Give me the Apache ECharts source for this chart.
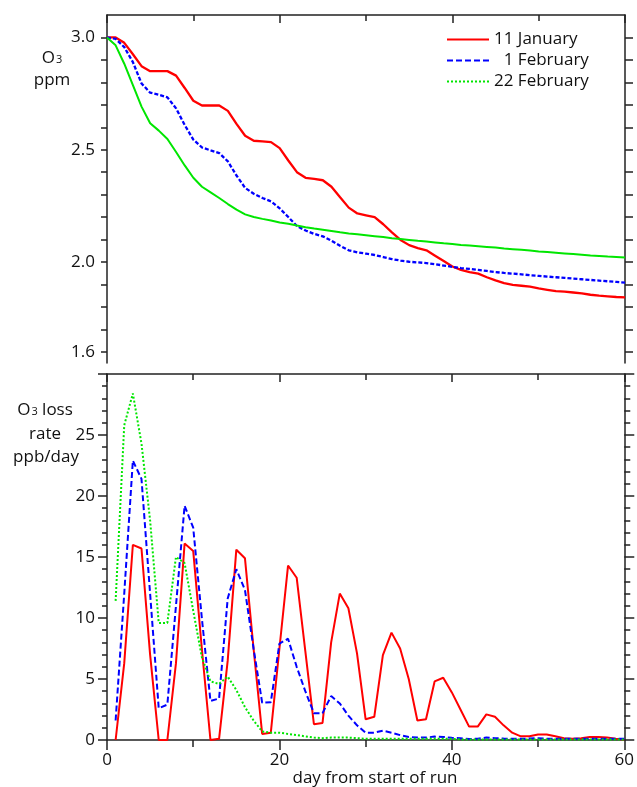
<!DOCTYPE html>
<html>
<head>
<meta charset="utf-8">
<script src="https://cdn.jsdelivr.net/npm/echarts@6/dist/echarts.min.js"></script>
<style>
html, body { margin: 0; padding: 0; background: #fff; }
#chart { width: 637px; height: 787px; }
</style>
</head>
<body>
<div id="chart"></div>
<script>
// series names (legend)
const names = ['11 January', '\u20071 February', '22 February'];

// O3 mixing ratio (ppm), days 0..60
const ppmJan = [3.000, 3.000, 2.976, 2.925, 2.872, 2.850, 2.850, 2.850, 2.830, 2.775,
  2.718, 2.697, 2.697, 2.697, 2.673, 2.615, 2.562, 2.540, 2.537, 2.534,
  2.507, 2.452, 2.400, 2.375, 2.370, 2.364, 2.335, 2.288, 2.242, 2.216,
  2.208, 2.200, 2.168, 2.132, 2.098, 2.075, 2.062, 2.052, 2.028, 2.004,
  1.980, 1.965, 1.955, 1.948, 1.932, 1.918, 1.906, 1.898, 1.894, 1.890,
  1.882, 1.876, 1.870, 1.868, 1.864, 1.860, 1.854, 1.850, 1.847, 1.844, 1.842];
const ppmFeb1 = [3.000, 2.994, 2.957, 2.890, 2.795, 2.754, 2.745, 2.733, 2.684, 2.610,
  2.545, 2.510, 2.497, 2.485, 2.448, 2.385, 2.330, 2.304, 2.285, 2.270,
  2.239, 2.200, 2.160, 2.140, 2.125, 2.114, 2.095, 2.072, 2.052, 2.043,
  2.037, 2.031, 2.022, 2.013, 2.006, 2.001, 1.998, 1.995, 1.990, 1.984,
  1.978, 1.973, 1.969, 1.965, 1.960, 1.955, 1.951, 1.948, 1.945, 1.941,
  1.938, 1.935, 1.932, 1.929, 1.926, 1.923, 1.920, 1.917, 1.914, 1.911, 1.908];
const ppmFeb22 = [3.000, 2.965, 2.883, 2.788, 2.692, 2.618, 2.585, 2.548, 2.490, 2.430,
  2.375, 2.335, 2.310, 2.285, 2.258, 2.233, 2.212, 2.200, 2.192, 2.185,
  2.176, 2.170, 2.162, 2.155, 2.149, 2.144, 2.138, 2.132, 2.127, 2.123,
  2.119, 2.115, 2.111, 2.106, 2.102, 2.098, 2.094, 2.091, 2.087, 2.083,
  2.080, 2.076, 2.073, 2.070, 2.067, 2.064, 2.060, 2.057, 2.054, 2.051,
  2.047, 2.044, 2.041, 2.038, 2.035, 2.032, 2.029, 2.027, 2.024, 2.022, 2.020];

// O3 loss rate (ppb/day), days 1..60
const lossJan = [0.0, 6.3, 16.0, 15.7, 7.0, 0.0, 0.0, 6.3, 16.1, 15.5,
  7.5, 0.0, 0.1, 6.5, 15.6, 14.9, 7.5, 0.5, 0.6, 7.5,
  14.3, 13.3, 7.3, 1.3, 1.4, 8.0, 12.0, 10.8, 7.1, 1.7,
  1.9, 6.95, 8.8, 7.5, 5.0, 1.6, 1.7, 4.8, 5.1, 3.9,
  2.5, 1.1, 1.1, 2.1, 1.9, 1.2, 0.6, 0.3, 0.3, 0.45,
  0.45, 0.3, 0.15, 0.1, 0.15, 0.25, 0.25, 0.2, 0.1, 0.05];
const lossFeb1 = [1.6, 12.0, 22.9, 21.4, 12.0, 2.6, 2.9, 11.0, 19.2, 17.4,
  10.0, 3.2, 3.4, 11.6, 14.0, 12.3, 7.5, 3.05, 3.1, 7.9,
  8.3, 6.0, 4.0, 2.2, 2.2, 3.6, 3.0, 2.0, 1.2, 0.6,
  0.6, 0.76, 0.6, 0.4, 0.25, 0.2, 0.2, 0.28, 0.25, 0.18,
  0.15, 0.08, 0.1, 0.2, 0.15, 0.12, 0.1, 0.1, 0.12, 0.15,
  0.12, 0.1, 0.1, 0.1, 0.1, 0.1, 0.1, 0.1, 0.1, 0.1];
const lossFeb22 = [11.4, 25.8, 28.4, 24.3, 18.0, 9.6, 9.6, 15.0, 14.5, 10.6,
  6.8, 4.8, 4.6, 5.2, 4.1, 2.7, 1.6, 0.7, 0.6, 0.6,
  0.5, 0.4, 0.3, 0.2, 0.15, 0.2, 0.2, 0.2, 0.15, 0.1,
  0.1, 0.1, 0.1, 0.1, 0.1, 0.1, 0.1, 0.1, 0.1, 0.1,
  0.05, 0.05, 0.05, 0.05, 0.05, 0.05, 0.05, 0.05, 0.05, 0.05,
  0.05, 0.05, 0.05, 0.05, 0.05, 0.05, 0.05, 0.05, 0.05, 0.05];

// axis ticks / labels
const ppmTicks = [1.6, 1.7, 1.8, 1.9, 2.0, 2.1, 2.2, 2.3, 2.4, 2.5, 2.6, 2.7, 2.8, 2.9, 3.0];
const ppmLabels = [1.6, 2.0, 2.5, 3.0];

const font = '"Open Sans", "Noto Sans", sans-serif';
const ink = '#222';
const colors = ['#ff0000', '#0000ff', '#00e600'];

const chart = echarts.init(document.getElementById('chart'), null, { renderer: 'canvas' });

function toPairs(arr, start) {
  return arr.map((v, i) => [i + start, v]);
}

const line = { show: true, onZero: false, lineStyle: { color: ink, width: 1.5 } };

function xAxisDef(grid, pos, labels, tickLen, minorLen) {
  return {
    type: 'value', gridIndex: grid, position: pos, min: 0, max: 60, interval: 20,
    axisLine: line,
    axisTick: { show: true, inside: pos === 'top', length: tickLen, lineStyle: { color: ink, width: 1.5 } },
    minorTick: { show: true, splitNumber: 2, length: minorLen, lineStyle: { color: ink, width: 1.5 } },
    axisLabel: { show: labels, margin: 12, fontSize: 17, color: '#111', fontFamily: font },
    splitLine: { show: false }, minorSplitLine: { show: false }
  };
}

const option = {
  animation: false,
  backgroundColor: '#fff',
  grid: [
    { left: 107, right: 12, top: 15, height: 348 },
    { left: 107, right: 12, top: 374, bottom: 47 }
  ],
  xAxis: [
    xAxisDef(0, 'top', false, 8, 6),
    xAxisDef(1, 'top', false, 8, 6),
    xAxisDef(1, 'bottom', true, 10, 7)
  ],
  yAxis: [
    {
      type: 'value', gridIndex: 0, position: 'left', min: 1.55, max: 3.1,
      axisLine: line,
      axisTick: { show: true, length: 6, customValues: ppmTicks, lineStyle: { color: ink, width: 1.5 } },
      axisLabel: { customValues: ppmLabels, formatter: v => v.toFixed(1), margin: 12, fontSize: 17, color: '#111', fontFamily: font },
      splitLine: { show: false }
    },
    {
      type: 'value', gridIndex: 0, position: 'right', min: 1.55, max: 3.1,
      axisLine: line,
      axisTick: { show: true, length: 8, customValues: ppmTicks, lineStyle: { color: ink, width: 1.5 } },
      axisLabel: { show: false },
      splitLine: { show: false }
    },
    {
      type: 'value', gridIndex: 1, position: 'left', min: 0, max: 30, interval: 5,
      axisLine: line,
      axisTick: { show: true, length: 9, lineStyle: { color: ink, width: 1.5 } },
      minorTick: { show: true, splitNumber: 5, length: 5, lineStyle: { color: ink, width: 1.5 } },
      axisLabel: { showMaxLabel: false, margin: 12, fontSize: 17, color: '#111', fontFamily: font },
      splitLine: { show: false }, minorSplitLine: { show: false }
    },
    {
      type: 'value', gridIndex: 1, position: 'right', min: 0, max: 30, interval: 5,
      axisLine: line,
      axisTick: { show: true, length: 10, lineStyle: { color: ink, width: 1.5 } },
      minorTick: { show: true, splitNumber: 5, length: 6, lineStyle: { color: ink, width: 1.5 } },
      axisLabel: { show: false },
      splitLine: { show: false }, minorSplitLine: { show: false }
    }
  ],
  legend: {
    orient: 'vertical', left: 441, top: 26,
    itemWidth: 42, itemHeight: 20, itemGap: 4,
    itemStyle: { opacity: 0, borderWidth: 0 },
    textStyle: { fontSize: 17, color: '#111', fontFamily: font },
    data: names
  },
  series: [
    // loss-rate panel (listed first so the legend takes its line styles)
    { name: names[0], type: 'line', xAxisIndex: 2, yAxisIndex: 2, showSymbol: false, symbol: 'none',
      lineStyle: { color: colors[0], width: 2 }, itemStyle: { color: colors[0] }, data: toPairs(lossJan, 1) },
    { name: names[1], type: 'line', xAxisIndex: 2, yAxisIndex: 2, showSymbol: false, symbol: 'none',
      lineStyle: { color: colors[1], width: 2, type: [6, 3] }, itemStyle: { color: colors[1] }, data: toPairs(lossFeb1, 1) },
    { name: names[2], type: 'line', xAxisIndex: 2, yAxisIndex: 2, showSymbol: false, symbol: 'none',
      lineStyle: { color: colors[2], width: 2, type: [2, 2] }, itemStyle: { color: colors[2] }, data: toPairs(lossFeb22, 1) },
    // ppm panel
    { name: names[0], type: 'line', xAxisIndex: 0, yAxisIndex: 0, showSymbol: false, symbol: 'none',
      lineStyle: { color: colors[0], width: 2.3 }, itemStyle: { color: colors[0] }, data: toPairs(ppmJan, 0) },
    { name: names[1], type: 'line', xAxisIndex: 0, yAxisIndex: 0, showSymbol: false, symbol: 'none',
      lineStyle: { color: colors[1], width: 2.3, type: [4, 2] }, itemStyle: { color: colors[1] }, data: toPairs(ppmFeb1, 0) },
    { name: names[2], type: 'line', xAxisIndex: 0, yAxisIndex: 0, showSymbol: false, symbol: 'none',
      lineStyle: { color: colors[2], width: 2 }, itemStyle: { color: colors[2] }, data: toPairs(ppmFeb22, 0) }
  ],
  graphic: [
    { type: 'text', x: 52, y: 58, style: { text: 'O{s|3}', font: '17px ' + font, fill: '#111', align: 'center', verticalAlign: 'middle',
      rich: { s: { fontSize: 11, fontFamily: font, verticalAlign: 'bottom', padding: [0, 0, 1, 1] } } } },
    { type: 'text', x: 52, y: 80, style: { text: 'ppm', font: '17px ' + font, fill: '#111', align: 'center', verticalAlign: 'middle' } },
    { type: 'text', x: 45, y: 410, style: { text: 'O{s|3} loss', font: '17px ' + font, fill: '#111', align: 'center', verticalAlign: 'middle',
      rich: { s: { fontSize: 11, fontFamily: font, verticalAlign: 'bottom', padding: [0, 0, 1, 1] } } } },
    { type: 'text', x: 45, y: 434, style: { text: 'rate', font: '17px ' + font, fill: '#111', align: 'center', verticalAlign: 'middle' } },
    { type: 'text', x: 46, y: 457, style: { text: 'ppb/day', font: '17px ' + font, fill: '#111', align: 'center', verticalAlign: 'middle' } },
    { type: 'text', x: 375, y: 778, style: { text: 'day from start of run', font: '17px ' + font, fill: '#111', align: 'center', verticalAlign: 'middle' } }
  ]
};

chart.setOption(option);
</script>
</body>
</html>
